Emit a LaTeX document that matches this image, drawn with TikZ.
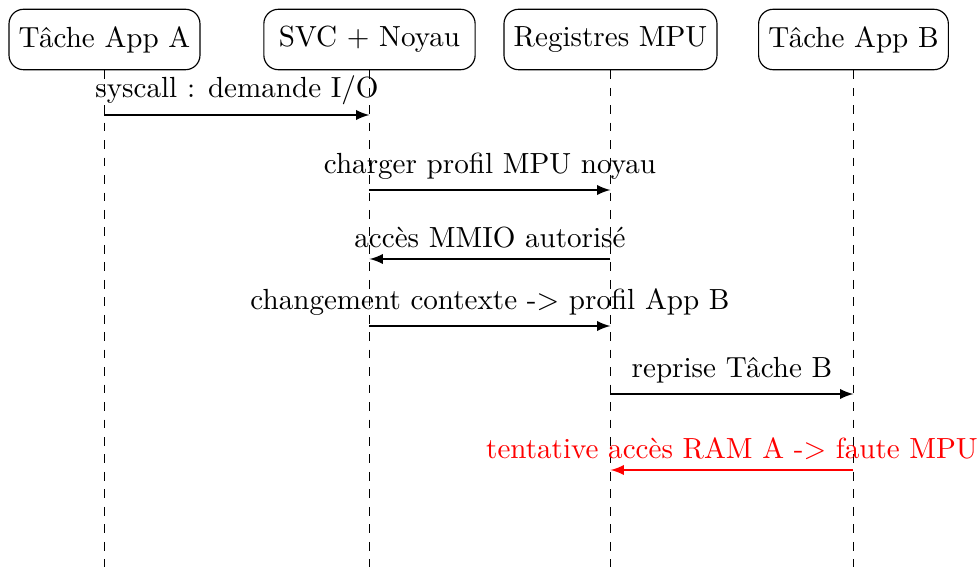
\documentclass[tikz,border=0pt]{standalone}
\usetikzlibrary{arrows}
\begin{document}
\begin{tikzpicture}[x=0.3436pt,y=-0.3436pt,
  actor/.style={draw,rounded corners=5pt,minimum height=0.73cm},
  lifeline/.style={dashed,thin},
  msg/.style={-latex,semithick},
  fault/.style={-latex,semithick,red}]
\useasboundingbox (0,0) rectangle (979,567);
% participants
\node[actor] (A) at (104.5,39.5) {Tâche App A};
\node[actor,minimum width=72.6pt] (S) at (369.5,39.5) {SVC + Noyau};
\node[actor] (M) at (610.5,39.5) {Registres MPU};
\node[actor] (B) at (853.5,39.5) {Tâche App B};
% lifelines
\foreach \p in {A,S,M,B}
  \draw[lifeline] (\p.south) -- (\p |- 0,569);
% messages
\draw[msg] (A |- 0,115) -- node[above] {syscall : demande I/O} (S |- 0,115);
\draw[msg] (S |- 0,190) -- node[above] {charger profil MPU noyau} (M |- 0,190);
\draw[msg] (M |- 0,259) -- node[above] {accès MMIO autorisé} (S |- 0,259);
\draw[msg] (S |- 0,326) -- node[above] {changement contexte -> profil App B} (M |- 0,326);
\draw[msg] (M |- 0,394) -- node[above] {reprise Tâche B} (B |- 0,394);
\draw[fault] (B |- 0,470) -- node[above] {tentative accès RAM A -> faute MPU} (M |- 0,470);
\end{tikzpicture}
\end{document}
